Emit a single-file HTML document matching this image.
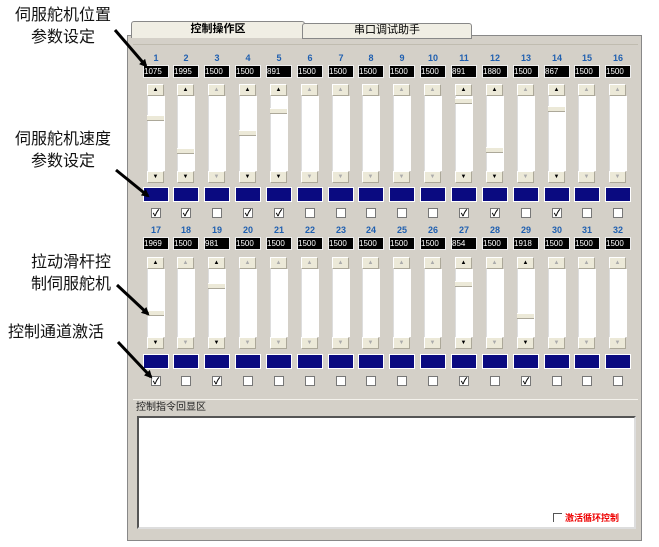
<!DOCTYPE html>
<html><head><meta charset="utf-8"><style>
body{margin:0;width:659px;height:547px;background:#fff;position:relative;overflow:hidden;font-family:"Liberation Sans","Noto Sans CJK SC",sans-serif}
.a{position:absolute}
.lbl{position:absolute;font-size:16px;color:#111;text-align:center;line-height:22px}
.num{position:absolute;width:24px;text-align:center;font-size:9px;font-weight:bold;color:#1f5fb0}
.val{position:absolute;width:24px;height:11px;background:#000;color:#fff;font-size:8px;line-height:11px;text-align:left;font-family:"Liberation Sans",sans-serif;border:1px solid #eee;box-sizing:content-box}
.arr{position:absolute;width:17px;height:12px;background:#ece9d8;border:1px solid #fff;border-right-color:#aca899;border-bottom-color:#aca899;box-sizing:border-box;font-size:6px;text-align:center;line-height:11px}
.trk{position:absolute;width:17px;background:#fff;border-left:1px solid #ddd}
.th{position:absolute;width:17px;height:6px;background:#ece9d8;border-bottom:1px solid #aca899;border-top:1px solid #fff;box-sizing:border-box}
.blu{position:absolute;width:24px;height:13px;background:#0a0a80;border:1px solid #fff}
.cb{position:absolute;width:10px;height:10px;background:#fff;border:1px solid #777;box-sizing:border-box;font-size:9px;line-height:8px;text-align:center;font-weight:bold}
</style></head><body>
<div class="lbl" style="left:8px;top:5px;width:110px">伺服舵机位置<br>参数设定</div>
<div class="lbl" style="left:8px;top:129px;width:110px">伺服舵机速度<br>参数设定</div>
<div class="lbl" style="left:16px;top:252px;width:110px">拉动滑杆控<br>制伺服舵机</div>
<div class="lbl" style="left:8px;top:322px;width:110px;text-align:left">控制通道激活</div>
<!-- panel -->
<div class="a" style="left:127px;top:35px;width:515px;height:506px;background:#d4d0c8;border:1px solid #888;box-sizing:border-box"></div>
<div class="a" style="left:131px;top:21px;width:172px;height:16px;background:#f0eee4;border:1px solid #888;border-bottom:none;border-radius:3px 3px 0 0;font-size:11px;font-weight:bold;text-align:center;line-height:15px">控制操作区</div>
<div class="a" style="left:302px;top:23px;width:168px;height:14px;background:#f0eee4;border:1px solid #888;border-radius:3px 3px 0 0;font-size:11px;text-align:center;line-height:13px">串口调试助手</div>
<div class="a" style="left:133px;top:44px;width:505px;height:1px;background:#c0bcb0"></div>
<div class="a" style="left:133px;top:399px;width:505px;height:1px;background:#f4f2ec"></div>
<div class="a" style="left:136px;top:398px;font-size:10px;color:#222">控制指令回显区</div>
<div class="a" style="left:137px;top:416px;width:499px;height:113px;background:#fff;border:2px solid #555;border-right-color:#ddd;border-bottom-color:#ddd;box-sizing:border-box"></div>
<div class="a" style="left:553px;top:513px;width:8px;height:8px;border-left:1px solid #555;border-top:1px solid #555"></div>
<div class="a" style="left:565px;top:511px;font-size:9px;font-weight:bold;color:#e00">激活循环控制</div>
<div id="g"></div>
<svg class="a" style="left:0;top:0" width="659" height="547">
<defs><marker id="m" markerWidth="8" markerHeight="8" refX="6" refY="4" orient="auto" markerUnits="userSpaceOnUse"><path d="M0,0 L8,4 L0,8 z" fill="#000"/></marker></defs>
<g stroke="#000" stroke-width="3" fill="none" marker-end="url(#m)">
<line x1="115" y1="30" x2="146" y2="66"/>
<line x1="116" y1="170" x2="148" y2="196"/>
<line x1="117" y1="285" x2="148" y2="314"/>
<line x1="118" y1="342" x2="151" y2="377"/>
</g></svg>
<script>
var vals=[1075,1995,1500,1500,891,1500,1500,1500,1500,1500,891,1880,1500,867,1500,1500,1969,1500,981,1500,1500,1500,1500,1500,1500,1500,854,1500,1918,1500,1500,1500];
var thumbs={1:115,2:148,4:130,5:108,11:98,12:147,14:106,17:310,19:283,27:281,29:313};
var chk=[1,2,4,5,11,12,14,17,19,27,29];
var h='';
for(var i=0;i<32;i++){
 var n=i+1,r=i<16?0:1,c=i%16,cx=155.5+c*30.85,x=Math.round(cx-12),sx=Math.round(cx-9);
 var o=r?172:0, act=thumbs[n]!==undefined;
 h+='<div class="num" style="left:'+x+'px;top:'+(53+o)+'px">'+n+'</div>';
 h+='<div class="val" style="left:'+(x-1)+'px;top:'+(65+o)+'px">'+vals[i]+'</div>';
 var tt=r?269:96,tb=r?337:171,ut=r?257:84;
 h+='<div class="arr" style="left:'+sx+'px;top:'+ut+'px;color:'+(act?'#000':'#aaa')+'">▲</div>';
 h+='<div class="trk" style="left:'+sx+'px;top:'+tt+'px;height:'+(tb-tt)+'px"></div>';
 h+='<div class="arr" style="left:'+sx+'px;top:'+tb+'px;color:'+(act?'#000':'#aaa')+'">▼</div>';
 if(act)h+='<div class="th" style="left:'+sx+'px;top:'+thumbs[n]+'px"></div>';
 h+='<div class="blu" style="left:'+(x-1)+'px;top:'+(r?354:187)+'px"></div>';
 h+='<div class="cb" style="left:'+Math.round(cx-5)+'px;top:'+(r?376:208)+'px">'+(chk.indexOf(n)>=0?'✓':'')+'</div>';
}
document.getElementById('g').innerHTML=h;
</script>
</body></html>
